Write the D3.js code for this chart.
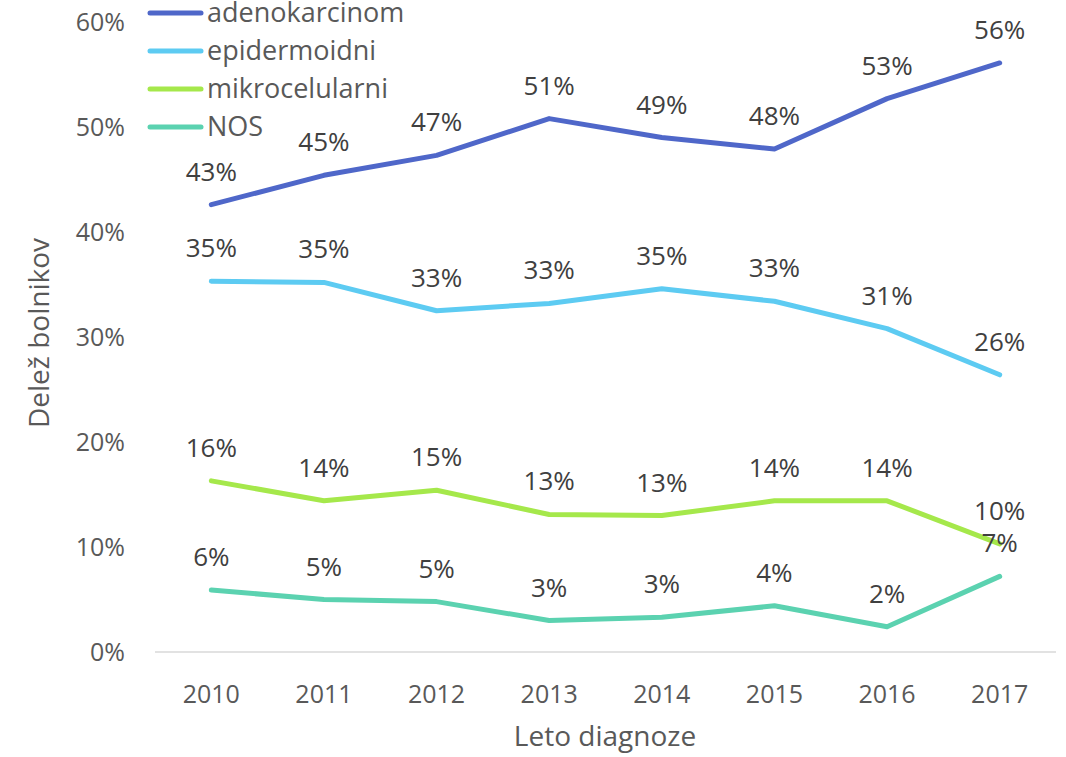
<!DOCTYPE html>
<html>
<head>
<meta charset="utf-8">
<script src="https://cdn.jsdelivr.net/npm/d3@7"></script>
<style>
  body { margin: 0; background: #fff; }
  svg { display: block; font-family: "Open Sans", "Noto Sans", sans-serif; }
</style>
</head>
<body>
<div id="chart"></div>
<script>
// data
var years = ["2010", "2011", "2012", "2013", "2014", "2015", "2016", "2017"];
var seriesNames = ["adenokarcinom", "epidermoidni", "mikrocelularni", "NOS"];
var seriesColors = ["#4f67c9", "#5dcbf2", "#a5e84b", "#5bd2b0"];
var adenokarcinom = [42.6, 45.4, 47.3, 50.8, 49.0, 47.9, 52.7, 56.1];
var epidermoidni = [35.3, 35.2, 32.5, 33.2, 34.6, 33.4, 30.8, 26.4];
var mikrocelularni = [16.3, 14.4, 15.4, 13.1, 13.0, 14.4, 14.4, 10.3];
var nos = [5.9, 5.0, 4.8, 3.0, 3.3, 4.4, 2.4, 7.2];
var yTicks = [0, 10, 20, 30, 40, 50, 60];

var allValues = [adenokarcinom, epidermoidni, mikrocelularni, nos];

var width = 1066, height = 757;
var margin = {left: 155, right: 10, top: 22, bottom: 105};

var svg = d3.select("#chart").append("svg")
  .attr("width", width)
  .attr("height", height);

var x = d3.scaleBand()
  .domain(years)
  .range([margin.left, width - margin.right]);

var y = d3.scaleLinear()
  .domain([0, 60])
  .range([height - margin.bottom, margin.top]);

// baseline
svg.append("line")
  .attr("x1", x.range()[0]).attr("x2", x.range()[1])
  .attr("y1", y(0)).attr("y2", y(0))
  .attr("stroke", "#d9d9d9")
  .attr("stroke-width", 1.5);

// y tick labels
svg.selectAll(".ytick")
  .data(yTicks)
  .enter().append("text")
  .attr("x", 125)
  .attr("y", function(d) { return y(d); })
  .attr("dy", "0.35em")
  .attr("text-anchor", "end")
  .attr("fill", "#595959")
  .style("font-size", "25px")
  .text(function(d) { return d + "%"; });

// x tick labels
svg.selectAll(".xtick")
  .data(years)
  .enter().append("text")
  .attr("x", function(d) { return x(d) + x.bandwidth() / 2; })
  .attr("y", 703)
  .attr("text-anchor", "middle")
  .attr("fill", "#595959")
  .style("font-size", "25px")
  .text(function(d) { return d; });

// axis titles
svg.append("text")
  .attr("transform", "translate(49," + 333 + ") rotate(-90)")
  .attr("text-anchor", "middle")
  .attr("fill", "#595959")
  .style("font-size", "28px")
  .text("Delež bolnikov");

svg.append("text")
  .attr("x", 605)
  .attr("y", 746)
  .attr("text-anchor", "middle")
  .attr("fill", "#595959")
  .style("font-size", "28px")
  .text("Leto diagnoze");

var line = d3.line()
  .x(function(d, i) { return x(years[i]) + x.bandwidth() / 2; })
  .y(function(d) { return y(d); });

allValues.forEach(function(vals, s) {
  svg.append("path")
    .datum(vals)
    .attr("d", line)
    .attr("fill", "none")
    .attr("stroke", seriesColors[s])
    .attr("stroke-width", 5)
    .attr("stroke-linecap", "round")
    .attr("stroke-linejoin", "round");

  svg.selectAll(".lbl" + s)
    .data(vals)
    .enter().append("text")
    .attr("x", function(d, i) { return x(years[i]) + x.bandwidth() / 2; })
    .attr("y", function(d) { return y(d) - 24; })
    .attr("text-anchor", "middle")
    .attr("fill", "#404040")
    .style("font-size", "26px")
    .text(function(d) { return Math.round(d) + "%"; });
});

// legend
var legend = svg.append("g");
seriesNames.forEach(function(name, s) {
  var ly = 13 + s * 38;
  legend.append("line")
    .attr("x1", 150).attr("x2", 201)
    .attr("y1", ly).attr("y2", ly)
    .attr("stroke", seriesColors[s])
    .attr("stroke-width", 5)
    .attr("stroke-linecap", "round");
  legend.append("text")
    .attr("x", 207)
    .attr("y", ly)
    .attr("dy", "0.35em")
    .attr("fill", "#595959")
    .style("font-size", "27px")
    .text(name);
});
</script>
</body>
</html>
